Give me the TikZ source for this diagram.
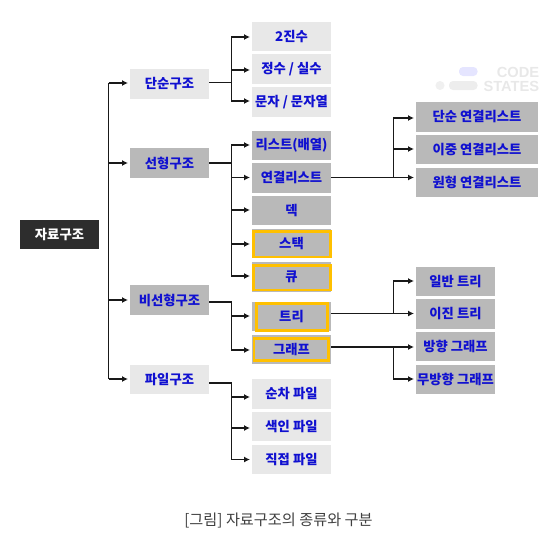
\documentclass[tikz,border=0pt]{standalone}
\usepackage{fontspec}
\setmainfont{Noto Sans CJK KR}
\newfontfamily\lat{Liberation Sans}
\usetikzlibrary{arrows.meta}
\definecolor{lightbox}{HTML}{E8E8E8}
\definecolor{midbox}{HTML}{B9B9B9}
\definecolor{darkbox}{HTML}{2D2D2D}
\definecolor{gold}{HTML}{FFC000}
\definecolor{labelblue}{HTML}{1010D0}
\tikzset{
 x=0.75pt,y=-0.75pt,
 boxbase/.style={minimum width=59.25pt,minimum height=22pt,inner sep=0pt,text=labelblue,font=\fontsize{10}{11}\selectfont\bfseries},
 lightnode/.style={boxbase,fill=lightbox},
 midnode/.style={boxbase,fill=midbox},
 widenode/.style={boxbase,fill=midbox,minimum width=91.5pt},
 rootnode/.style={boxbase,fill=darkbox,text=white},
 goldframe/.style={draw=gold,line width=2.2pt,fill=none},
 conn/.style={draw=black!90,line width=1.05pt},
 arr/.style={conn,-{Latex[length=4.5pt,width=4.5pt]},shorten >=1.3pt},
 wmtext/.style={inner sep=0pt,text=black!9,font=\lat\bfseries\fontsize{11}{12}\selectfont,anchor=east},
}
\begin{document}
\begin{tikzpicture}
\useasboundingbox (0,0) rectangle (556,544);
% watermark
\fill[black!6] (440,85.5) circle (3.4pt);
\fill[black!7,rounded corners=3pt] (449,81) rectangle (477.5,90);
\fill[blue!10,rounded corners=3pt] (459,67) rectangle (477.5,76);
\node[wmtext] (wm1) at (539.5,72) {CODE};
\node[wmtext] (wm2) at (539.5,86) {STATES};
% nodes
\node[rootnode] (root) at (59.5,234.5) {자료구조};
\node[lightnode] (simple) at (169.5,84) {단순구조};
\node[midnode] (linear) at (169.5,163) {선형구조};
\node[midnode] (nonlin) at (169.5,300) {비선형구조};
\node[lightnode] (file) at (169.5,379.5) {파일구조};
\node[lightnode] (bin) at (291.5,36.5) {2진수};
\node[lightnode] (int) at (291.5,69) {정수 / 실수};
\node[lightnode] (chr) at (291.5,102) {문자 / 문자열};
\node[midnode] (list) at (291.5,145.5) {리스트(배열)};
\node[midnode] (llist) at (291.5,178) {연결리스트};
\node[midnode] (deque) at (291.5,210.5) {덱};
\node[midnode] (stack) at (291.5,243.5) {스택};
\node[midnode] (queue) at (291.5,277) {큐};
\node[midnode] (tree) at (291.5,316.5) {트리};
\node[midnode] (graph) at (291.5,349.5) {그래프};
\node[lightnode] (seqf) at (291.5,394) {순차 파일};
\node[lightnode] (idxf) at (291.5,426.5) {색인 파일};
\node[lightnode] (dirf) at (291.5,459.5) {직접 파일};
\node[widenode] (l1) at (477,117) {단순 연결리스트};
\node[widenode] (l2) at (477,149.5) {이중 연결리스트};
\node[widenode] (l3) at (477,182.5) {원형 연결리스트};
\node[midnode] (t1) at (455.5,281.5) {일반 트리};
\node[midnode] (t2) at (455.5,314) {이진 트리};
\node[midnode] (g1) at (455.5,346.5) {방향 그래프};
\node[midnode] (g2) at (455.5,379.5) {무방향 그래프};
\node[inner sep=0pt,text=black!75,font=\fontsize{11.4}{13}\selectfont] (cap) at (278.5,520) {[그림] 자료구조의 종류와 구분};
% gold frames
\draw[goldframe] (253.5,231.5) rectangle (330.5,257);
\draw[goldframe] (253.5,265.5) rectangle (330.5,290);
\draw[goldframe] (256.5,303.5) rectangle (327.5,330.5);
\draw[goldframe] (254,338.5) rectangle (328.5,360.5);
% connectors
\draw[conn] (108.5,83) -- (108.5,379);
\foreach \t/\y in {simple/83,linear/163,nonlin/300,file/379}{\draw[arr] (108.5,\y) -- (\t.west |- 0,\y);}
\foreach \t/\y in {bin/37,int/70,chr/101}{\draw[arr] (simple.east |- 0,82.5) -- (231.5,82.5) |- (\t.west |- 0,\y);}
\foreach \t/\y in {list/145,llist/177.5,deque/210,stack/244,queue/276}{\draw[arr] (linear.east |- 0,163) -- (231.5,163) |- (\t.west |- 0,\y);}
\foreach \t/\y in {tree/316,graph/350}{\draw[arr] (nonlin.east |- 0,302) -- (231.5,302) |- (\t.west |- 0,\y);}
\foreach \t/\y in {seqf/397,idxf/428,dirf/459.5}{\draw[arr] (file.east |- 0,383) -- (231.5,383) |- (\t.west |- 0,\y);}
\foreach \t/\y in {l1/118,l2/149,l3/177.5}{\draw[arr] (llist.east |- 0,177.5) -- (393.5,177.5) |- (\t.west |- 0,\y);}
\foreach \t/\y in {t1/281,t2/313.5}{\draw[arr] (tree.east |- 0,313.5) -- (393.5,313.5) |- (\t.west |- 0,\y);}
\foreach \t/\y in {g1/347,g2/379}{\draw[arr] (graph.east |- 0,347) -- (393.5,347) |- (\t.west |- 0,\y);}
\end{tikzpicture}
\end{document}
